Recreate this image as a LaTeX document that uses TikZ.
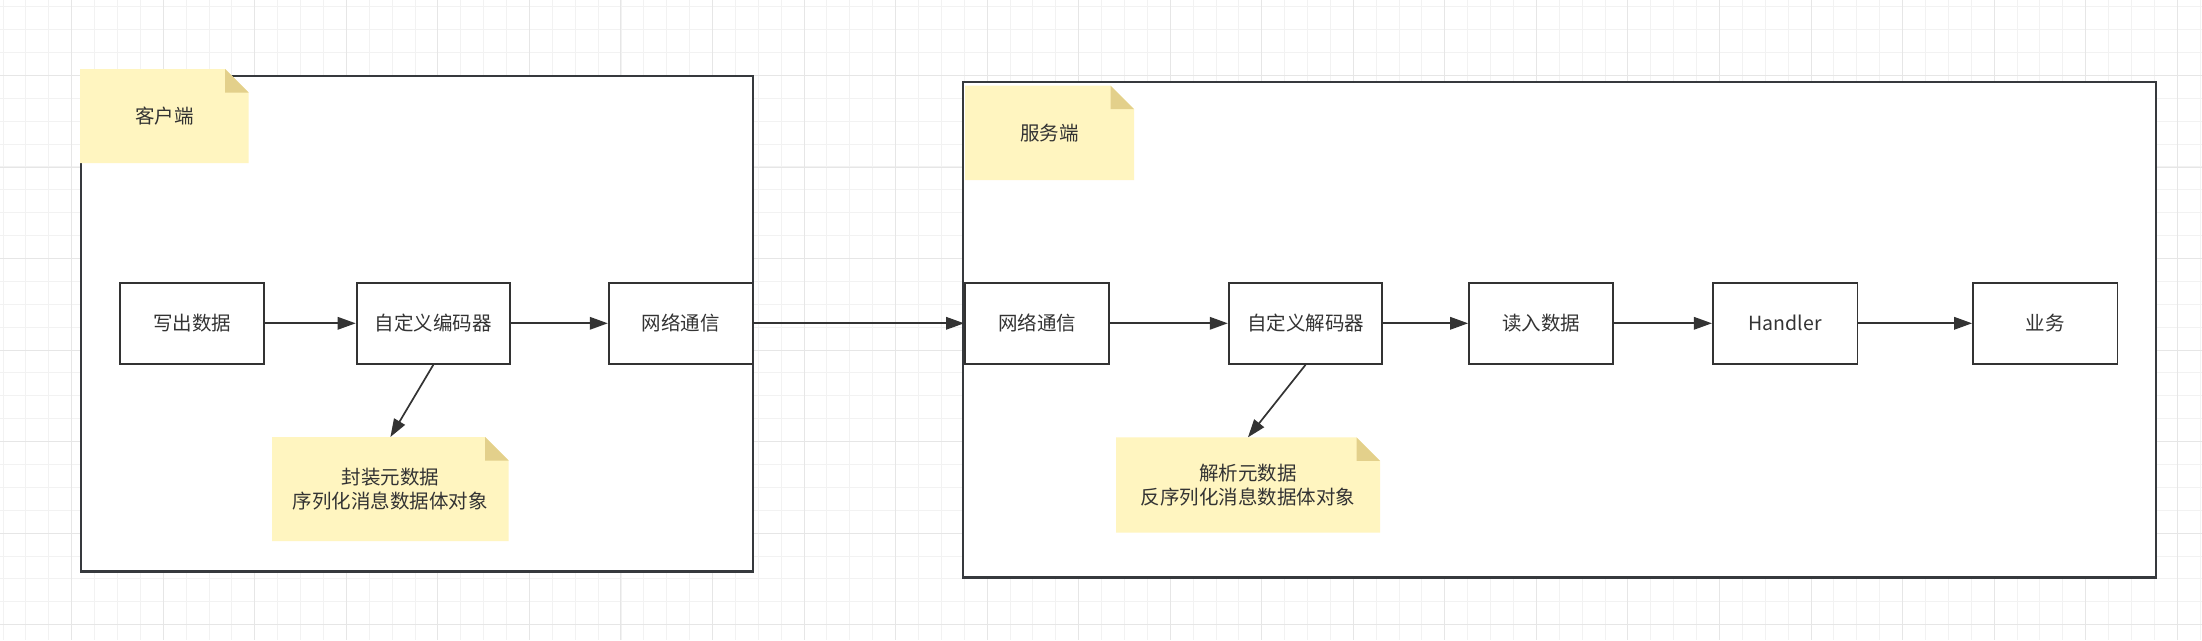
\documentclass[tikz,border=0pt]{standalone}
\usepackage{fontspec}
\setmainfont{Noto Sans CJK SC}
\usetikzlibrary{arrows.meta}
\pgfdeclarelayer{back}
\pgfdeclarelayer{notebg}
\pgfsetlayers{back,notebg,main}
\definecolor{linec}{HTML}{333333}
\definecolor{contc}{HTML}{36393D}
\definecolor{notefill}{HTML}{FFF5C0}
\definecolor{foldfill}{HTML}{E3D08B}
\definecolor{txtc}{HTML}{333333}
\definecolor{gridminor}{HTML}{F2F2F2}
\definecolor{gridmajor}{HTML}{E6E6E6}
\def\foldsz{23.5pt}
\newcommand{\mynotebg}[1]{%
  \begin{pgfonlayer}{notebg}
    \fill[notefill] (#1.north west) -- ([xshift=-\foldsz]#1.north east)
      -- ([yshift=-\foldsz]#1.north east) -- (#1.south east) -- (#1.south west) -- cycle;
    \fill[foldfill] ([xshift=-\foldsz]#1.north east)
      -- ([xshift=-\foldsz,yshift=-\foldsz]#1.north east)
      -- ([yshift=-\foldsz]#1.north east) -- cycle;
  \end{pgfonlayer}}
\begin{document}
\begin{tikzpicture}[x=1pt,y=-1pt,
  container/.style={draw=contc, line width=2.4pt, fill=white, inner sep=0pt},
  stepbox/.style={draw=linec, line width=1.8pt, fill=white, inner sep=0pt,
    minimum height=81.3pt, text=txtc, font=\fontsize{19.5}{24}\selectfont},
  notebox/.style={draw=none, inner sep=0pt, outer sep=0pt, text=txtc, align=center,
    font=\fontsize{19.5}{24.6}\selectfont},
  conn/.style={draw=linec, line width=1.7pt, -{Triangle[length=18pt,width=12.5pt]}},
  minorgrid/.style={draw=gridminor, line width=1pt},
  majorgrid/.style={draw=gridmajor, line width=1pt}]
\useasboundingbox (0,0) rectangle (2202,640);
\begin{pgfonlayer}{back}
  \fill[white] (0,0) rectangle (2202,640);
  \foreach \k in {0,...,96} {
    \pgfmathsetmacro\xx{3.1+22.885*\k}
    \draw[minorgrid] (\xx,0) -- (\xx,640);
  }
  \foreach \k in {0,...,27} {
    \pgfmathsetmacro\yy{6.8+22.885*\k}
    \draw[minorgrid] (0,\yy) -- (2202,\yy);
  }
  \foreach \k in {0,...,23} {
    \pgfmathsetmacro\xx{71.75+91.54*\k}
    \draw[majorgrid] (\xx,0) -- (\xx,640);
  }
  \foreach \k in {0,...,6} {
    \pgfmathsetmacro\yy{75.5+91.54*\k}
    \draw[majorgrid] (0,\yy) -- (2202,\yy);
  }
  \node[container, minimum width=672.3pt, minimum height=495.5pt] (client) at (416.85,323.75) {};
  \node[container, minimum width=1193.3pt, minimum height=495.6pt] (server) at (1559.35,329.5) {};
\end{pgfonlayer}

% notes
\node[notebox, minimum width=168.7pt, minimum height=94pt] (clabel) at (164.35,116) {客户端};
\mynotebg{clabel}
\node[notebox, minimum width=169pt, minimum height=94.3pt] (slabel) at (1049.5,132.85) {服务端};
\mynotebg{slabel}
\node[notebox, minimum width=236.4pt, minimum height=104pt] (cnote) at (390.4,489) {封装元数据\\序列化消息数据体对象};
\mynotebg{cnote}
\node[notebox, minimum width=264pt, minimum height=95.4pt] (snote) at (1248,485) {解析元数据\\反序列化消息数据体对象};
\mynotebg{snote}

% client boxes
\node[stepbox, minimum width=144.6pt] (cwrite) at (192,323.3) {写出数据};
\node[stepbox, minimum width=153.4pt] (cenc) at (433.3,323.3) {自定义编码器};
\node[stepbox, minimum width=143.8pt] (cnet) at (680.6,323.3) {网络通信};

% server boxes
\node[stepbox, minimum width=144.3pt] (snet) at (1037.15,323.3) {网络通信};
\node[stepbox, minimum width=153.6pt] (sdec) at (1305.5,323.3) {自定义解码器};
\node[stepbox, minimum width=144pt] (sread) at (1541,323.3) {读入数据};
\node[stepbox, minimum width=144.7pt] (shand) at (1785.15,323.3) {Handler};
\node[stepbox, minimum width=144.5pt] (sbiz) at (2045.25,323.3) {业务};

% connectors
\draw[conn] (cwrite.east) -- (cenc.west);
\draw[conn] (cenc.east) -- (cnet.west);
\draw[conn] (cenc.south) -- (cnote.north);
\draw[conn] (cnet.east) -- (snet.west);
\draw[conn] (snet.east) -- (sdec.west);
\draw[conn] (sdec.east) -- (sread.west);
\draw[conn] (sread.east) -- (shand.west);
\draw[conn] (shand.east) -- (sbiz.west);
\draw[conn] (sdec.south) -- (snote.north);
\end{tikzpicture}
\end{document}
